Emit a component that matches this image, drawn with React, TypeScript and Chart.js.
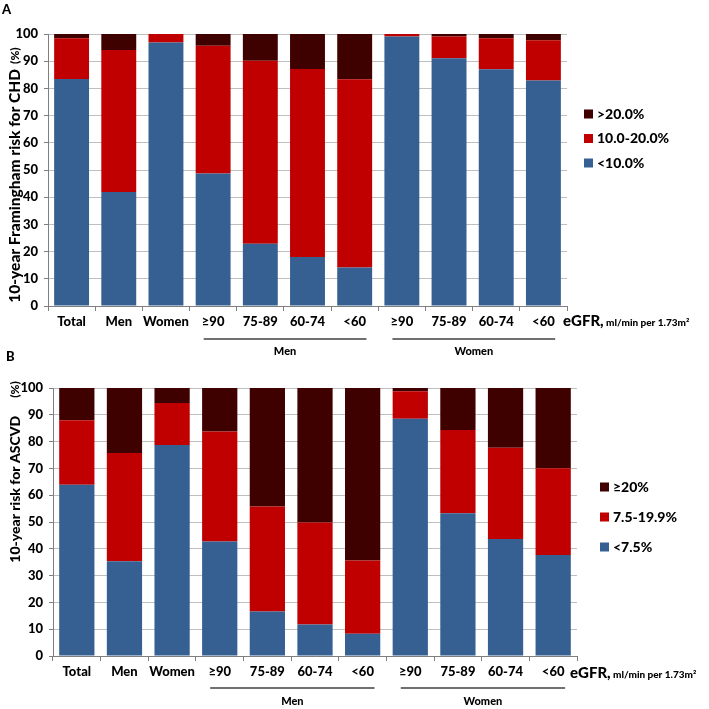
import React, { useEffect, useRef } from 'react';
import { Chart, registerables } from 'chart.js';

Chart.register(...registerables);

const FONT = 'Lato, "Open Sans", sans-serif';
const W = '900';

const categories = ['Total', 'Men', 'Women', '≥90', '75-89', '60-74', '<60', '≥90', '75-89', '60-74', '<60'];
const yTicks = [0, 10, 20, 30, 40, 50, 60, 70, 80, 90, 100];

// Panel A: 10-year Framingham risk for CHD
const chdLabels = ['<10.0%', '10.0-20.0%', '>20.0%'];
const chdLow = [83.5, 41.9, 96.9, 48.7, 22.9, 18.0, 14.2, 99.1, 91.1, 87.0, 82.9];
const chdMid = [14.9, 52.2, 3.1, 47.0, 67.3, 69.1, 69.2, 0.9, 8.0, 11.4, 14.8];
const chdHigh = [1.6, 5.9, 0, 4.3, 9.8, 12.9, 16.6, 0, 0.9, 1.6, 2.3];

// Panel B: 10-year risk for ASCVD
const ascvdLabels = ['<7.5%', '7.5-19.9%', '≥20%'];
const ascvdLow = [63.9, 35.4, 78.7, 42.7, 16.6, 11.8, 8.3, 88.5, 53.3, 43.7, 37.7];
const ascvdMid = [24.1, 40.3, 15.7, 41.1, 39.2, 38.0, 27.3, 10.3, 31.0, 34.0, 32.4];
const ascvdHigh = [12.0, 24.3, 5.6, 16.2, 44.2, 50.2, 64.4, 1.2, 15.7, 22.3, 29.9];

const groups = [
  { label: 'Men', from: 3, to: 6 },
  { label: 'Women', from: 7, to: 10 },
];

const COLORS = ['#376092', '#C00000', '#3F0000'];

const extrasPlugin = {
  id: 'extras',
  afterDraw(chart: any, _args: any, opts: any) {
    const ctx = chart.ctx as CanvasRenderingContext2D;
    const xs = chart.scales.x;
    ctx.save();
    ctx.fillStyle = '#000';

    // panel letter
    ctx.font = `${W} 13px ${FONT}`;
    ctx.textAlign = 'left';
    ctx.textBaseline = 'alphabetic';
    ctx.fillText(opts.letter, opts.letterX, opts.letterY);

    // y title
    ctx.save();
    ctx.translate(opts.titleX, opts.titleY);
    ctx.rotate(-Math.PI / 2);
    ctx.textBaseline = 'middle';
    ctx.font = `${W} ${opts.titleSize}px ${FONT}`;
    const w1 = ctx.measureText(opts.title).width;
    ctx.font = `${W} 12px ${FONT}`;
    const w2 = ctx.measureText('(%)').width;
    const total = w1 + opts.titleGap + w2;
    const start = -total / 2;
    ctx.font = `${W} ${opts.titleSize}px ${FONT}`;
    ctx.fillText(opts.title, start, 0);
    ctx.font = `${W} 12px ${FONT}`;
    ctx.fillText('(%)', start + w1 + opts.titleGap, 0);
    ctx.restore();

    // legend (reversed order)
    const ds = chart.data.datasets;
    ctx.font = `${W} 14px ${FONT}`;
    ctx.textBaseline = 'middle';
    for (let i = 0; i < ds.length; i++) {
      const d = ds[ds.length - 1 - i];
      const cy = opts.legendY + i * opts.legendGap;
      ctx.fillStyle = d.backgroundColor;
      ctx.fillRect(opts.legendX, cy - 4.5, 9, 9);
      ctx.fillStyle = '#000';
      ctx.fillText(d.label, opts.legendX + 13, cy);
    }

    // group lines and labels
    const cat = (xs.right - xs.left) / categories.length;
    ctx.strokeStyle = '#404040';
    ctx.lineWidth = 1.3;
    ctx.font = `${W} 11px ${FONT}`;
    ctx.textAlign = 'center';
    for (const g of groups) {
      const x0 = xs.getPixelForValue(g.from) - 0.2 * cat;
      const x1 = xs.getPixelForValue(g.to) + 0.25 * cat;
      ctx.beginPath();
      ctx.moveTo(x0, opts.groupLineY);
      ctx.lineTo(x1, opts.groupLineY);
      ctx.stroke();
      ctx.fillText(g.label, (x0 + x1) / 2, opts.groupLabelY);
    }

    // eGFR unit text
    ctx.textAlign = 'left';
    ctx.textBaseline = 'alphabetic';
    ctx.font = `${W} 15px ${FONT}`;
    ctx.fillText('eGFR,', opts.egfrX, opts.egfrY);
    const we = ctx.measureText('eGFR,').width;
    ctx.font = `${W} 10px ${FONT}`;
    ctx.fillText(' ml/min per 1.73m²', opts.egfrX + we, opts.egfrY);

    ctx.restore();
  },
};

interface PanelProps {
  top: number;
  height: number;
  labels: string[];
  series: number[][];
  padding: { left: number; right: number; top: number; bottom: number };
  yWidth: number;
  xHeight: number;
  extras: any;
}

function Panel(p: PanelProps) {
  const ref = useRef<HTMLCanvasElement | null>(null);
  useEffect(() => {
    if (!ref.current) return;
    const chart = new Chart(ref.current, {
      type: 'bar',
      data: {
        labels: categories,
        datasets: p.series.map((s, i) => ({
          label: p.labels[i],
          data: s,
          backgroundColor: COLORS[i],
          borderWidth: 0,
          barPercentage: 0.74,
          categoryPercentage: 1.0,
        })),
      },
      options: {
        responsive: false,
        animation: false,
        devicePixelRatio: 1,
        layout: { padding: p.padding },
        plugins: {
          legend: { display: false },
          tooltip: { enabled: false },
          extras: p.extras,
        } as any,
        scales: {
          x: {
            stacked: true,
            grid: {
              display: true,
              drawOnChartArea: false,
              offset: true,
              tickLength: 5,
              tickColor: '#7f7f7f',
            },
            border: { color: '#7f7f7f', width: 1 },
            ticks: {
              font: { family: FONT, size: 13, weight: W as any },
              color: '#000',
              padding: 3,
              maxRotation: 0,
              autoSkip: false,
            },
            afterFit: (s: any) => {
              s.height = p.xHeight;
            },
          },
          y: {
            stacked: true,
            min: 0,
            max: 100,
            afterBuildTicks: (s: any) => {
              s.ticks = yTicks.map((v) => ({ value: v }));
            },
            grid: {
              color: '#bfbfbf',
              tickColor: '#7f7f7f',
              tickLength: 4,
              lineWidth: 1,
            },
            border: { color: '#7f7f7f', width: 1 },
            ticks: {
              font: { family: FONT, size: 13, weight: W as any },
              color: '#000',
              padding: 6,
            },
            afterFit: (s: any) => {
              s.width = p.yWidth;
            },
          },
        },
      },
      plugins: [extrasPlugin],
    });
    return () => chart.destroy();
  }, []);
  return (
    <canvas
      ref={ref}
      width={709}
      height={p.height}
      style={{ position: 'absolute', left: 0, top: p.top, width: 709, height: p.height, display: 'block' }}
    />
  );
}

export default function App() {
  return (
    <div style={{ position: 'absolute', left: 0, top: 0, width: 709, height: 709, background: '#fff', overflow: 'hidden' }}>
      <Panel
        top={0}
        height={365}
        labels={chdLabels}
        series={[chdLow, chdMid, chdHigh]}
        padding={{ left: 0, right: 142, top: 34, bottom: 0 }}
        yWidth={48}
        xHeight={59}
        extras={{
          letter: 'A',
          letterX: 2,
          letterY: 14,
          title: '10-year Framingham risk for CHD',
          titleSize: 15.5,
          titleGap: 5,
          titleX: 15,
          titleY: 175,
          legendX: 584,
          legendY: 114,
          legendGap: 24.5,
          groupLineY: 339,
          groupLabelY: 351,
          egfrX: 563,
          egfrY: 326,
        }}
      />
      <Panel
        top={345}
        height={364}
        labels={ascvdLabels}
        series={[ascvdLow, ascvdMid, ascvdHigh]}
        padding={{ left: 0, right: 132, top: 43, bottom: 0 }}
        yWidth={53}
        xHeight={53}
        extras={{
          letter: 'B',
          letterX: 6,
          letterY: 16,
          title: '10-year risk for ASCVD',
          titleSize: 14,
          titleGap: 18,
          titleX: 15,
          titleY: 127,
          legendX: 600,
          legendY: 142,
          legendGap: 30,
          groupLineY: 343,
          groupLabelY: 356,
          egfrX: 570,
          egfrY: 333,
        }}
      />
    </div>
  );
}
